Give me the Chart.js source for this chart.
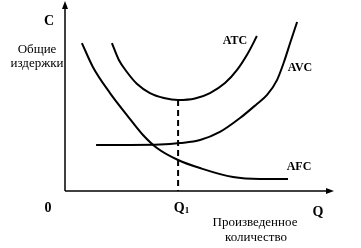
<!DOCTYPE html>
<html>
<head>
<meta charset="utf-8">
<script src="https://cdn.jsdelivr.net/npm/chart.js@4"></script>
<style>
  body { margin: 0; background: #fff; }
  #wrap { width: 361px; height: 248px; }
</style>
</head>
<body>
<div id="wrap"><canvas id="cost-chart" width="361" height="248"></canvas></div>
<script>
// curve points (x = quantity, y = cost, arbitrary units)
const atcX = [1.75, 2.01, 2.31, 2.69, 3.17, 3.69, 4.22, 4.85, 5.41, 5.97, 6.42, 6.83, 7.16];
const atcY = [7.87, 6.97, 6.33, 5.69, 5.21, 4.95, 4.84, 4.92, 5.21, 5.74, 6.44, 7.34, 8.24];

const avcX = [1.16, 2.43, 3.54, 4.29, 5.04, 5.78, 6.53, 7.16, 7.54, 7.91, 8.17, 8.40, 8.66];
const avcY = [2.45, 2.45, 2.47, 2.55, 2.71, 3.14, 3.88, 4.63, 5.11, 5.90, 6.86, 7.87, 8.99];

const afcX = [0.63, 1.04, 1.68, 2.31, 2.91, 3.43, 4.22, 5.04, 6.27, 7.28, 8.32];
const afcY = [7.87, 6.60, 5.21, 4.04, 2.98, 2.29, 1.65, 1.22, 0.74, 0.64, 0.64];

const q1 = 4.22;
const atcMin = 4.84;

const curveLabels = ["ATC", "AVC", "AFC"];

function toPoints(xs, ys) {
  return xs.map((x, i) => ({ x: x, y: ys[i] }));
}

const serif = '"Liberation Serif", "Times New Roman", serif';

const axesAndText = {
  id: "axesAndText",
  afterDraw(chart) {
    const c = chart.ctx;
    const xs = chart.scales.x;
    const ys = chart.scales.y;
    const x0 = xs.getPixelForValue(0);
    const y0 = ys.getPixelForValue(0);

    c.save();
    c.strokeStyle = "#000";
    c.fillStyle = "#000";
    c.lineWidth = 1.5;

    // y axis with arrow
    c.beginPath();
    c.moveTo(x0, y0);
    c.lineTo(x0, 6);
    c.stroke();
    c.beginPath();
    c.moveTo(x0, 1);
    c.lineTo(x0 - 3, 9);
    c.lineTo(x0 + 3, 9);
    c.closePath();
    c.fill();

    // x axis with arrow
    c.beginPath();
    c.moveTo(x0, y0);
    c.lineTo(329, y0);
    c.stroke();
    c.beginPath();
    c.moveTo(334, y0);
    c.lineTo(326, y0 - 3);
    c.lineTo(326, y0 + 3);
    c.closePath();
    c.fill();

    c.textAlign = "center";
    c.textBaseline = "middle";

    c.font = "bold 14px " + serif;
    c.fillText("C", 49, 21);
    c.fillText("0", 48, 208);
    c.fillText("Q", 318, 212);

    const qx = xs.getPixelForValue(q1);
    c.fillText("Q", qx + 1, 208);
    c.font = "bold 9px " + serif;
    c.fillText("1", qx + 9, 211);

    c.font = "13px " + serif;
    c.fillText("Общие", 37, 50);
    c.fillText("издержки", 37, 64);
    c.fillText("Произведенное", 255, 223);
    c.fillText("количество", 256, 238);

    c.font = "bold 12px " + serif;
    c.fillText(curveLabels[0], 235, 41);
    c.fillText(curveLabels[1], 300, 68);
    c.fillText(curveLabels[2], 299, 167);
    c.restore();
  }
};

function curve(label, xs, ys) {
  return {
    label: label,
    data: toPoints(xs, ys),
    borderColor: "#000",
    borderWidth: 2,
    pointRadius: 0,
    fill: false,
    cubicInterpolationMode: "monotone"
  };
}

new Chart(document.getElementById("cost-chart"), {
  type: "line",
  data: {
    datasets: [
      curve(curveLabels[0], atcX, atcY),
      curve(curveLabels[1], avcX, avcY),
      curve(curveLabels[2], afcX, afcY),
      {
        label: "Q1",
        data: [{ x: q1, y: atcMin }, { x: q1, y: 0 }],
        borderColor: "#000",
        borderWidth: 2,
        borderDash: [6, 4],
        pointRadius: 0,
        fill: false
      }
    ]
  },
  options: {
    responsive: false,
    animation: false,
    layout: { padding: { left: 65, right: 28, top: 3, bottom: 57 } },
    plugins: { legend: { display: false }, tooltip: { enabled: false } },
    scales: {
      x: { type: "linear", min: 0, max: 10, display: false },
      y: { min: 0, max: 10, display: false }
    }
  },
  plugins: [axesAndText]
});
</script>
</body>
</html>
